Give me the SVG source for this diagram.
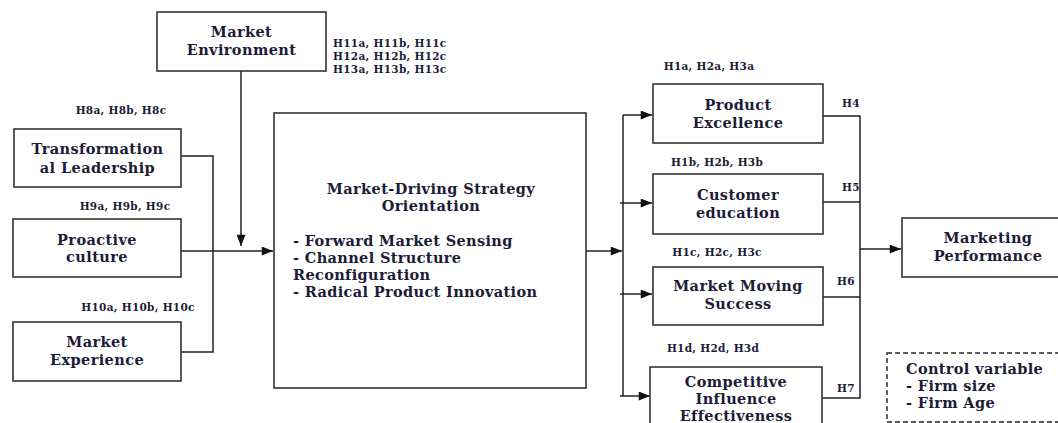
<svg xmlns="http://www.w3.org/2000/svg" width="1058" height="423" viewBox="0 0 1058 423">
<defs>
<marker id="ah" viewBox="0 0 10 8" refX="10" refY="4" markerWidth="12" markerHeight="9" markerUnits="userSpaceOnUse" orient="auto">
<path d="M0,0 L10,4 L0,8 Z" fill="#111"/>
</marker>
<style>
.box{fill:#fff;stroke:#333;stroke-width:1.6}
.dash{fill:#fff;stroke:#222;stroke-width:1.4;stroke-dasharray:5,3}
.t{font-family:"DejaVu Serif","Liberation Serif",serif;font-weight:bold;font-size:14.5px;letter-spacing:0.4px;fill:#1c1c38;text-anchor:middle}
.l{font-family:"DejaVu Serif","Liberation Serif",serif;font-weight:bold;font-size:14.5px;letter-spacing:0.35px;fill:#1c1c38}
.h{font-family:"DejaVu Serif","Liberation Serif",serif;font-weight:bold;font-size:10.5px;letter-spacing:0.3px;fill:#1c1c38}
.hc{font-family:"DejaVu Serif","Liberation Serif",serif;font-weight:bold;font-size:10.5px;letter-spacing:0.3px;fill:#1c1c38;text-anchor:middle}
.c{fill:none;stroke:#222;stroke-width:1.5}
</style>
</defs>
<rect width="1058" height="423" fill="#fff"/>
<g id="connectors">
<path class="c" d="M181,156 H213 V352 H181"/>
<path class="c" d="M181,251 H273" marker-end="url(#ah)"/>
<path class="c" d="M241,71 V246" marker-end="url(#ah)"/>
<path class="c" d="M586,251 H622" marker-end="url(#ah)"/>
<path class="c" d="M623,115 V396"/>
<path class="c" d="M623,115 H652" marker-end="url(#ah)"/>
<path class="c" d="M620,203 H652" marker-end="url(#ah)"/>
<path class="c" d="M620,294 H652" marker-end="url(#ah)"/>
<path class="c" d="M620,396 H650" marker-end="url(#ah)"/>
<path class="c" d="M823,116 H860 V398 H822"/>
<path class="c" d="M823,202 H860"/>
<path class="c" d="M823,297 H860"/>
<path class="c" d="M860,249 H901" marker-end="url(#ah)"/>
</g>
<g id="market-environment">
<rect class="box" x="157" y="12" width="169" height="59"/>
<text class="t" x="241.5" y="37">Market</text>
<text class="t" x="241.5" y="55">Environment</text>
</g>
<g id="labels-h11-13">
<text class="h" x="333" y="47">H11a, H11b, H11c</text>
<text class="h" x="333" y="60">H12a, H12b, H12c</text>
<text class="h" x="333" y="73">H13a, H13b, H13c</text>
</g>
<g id="transformational-leadership">
<rect class="box" x="14" y="129" width="167" height="58"/>
<text class="t" x="97.5" y="154">Transformation</text>
<text class="t" x="97.5" y="173">al Leadership</text>
</g>
<text class="hc" x="121" y="114">H8a, H8b, H8c</text>
<g id="proactive-culture">
<rect class="box" x="13" y="219" width="168" height="58"/>
<text class="t" x="97" y="245">Proactive</text>
<text class="t" x="97" y="262">culture</text>
</g>
<text class="hc" x="125" y="210">H9a, H9b, H9c</text>
<g id="market-experience">
<rect class="box" x="13" y="322" width="168" height="59"/>
<text class="t" x="97" y="347">Market</text>
<text class="t" x="97" y="365">Experience</text>
</g>
<text class="hc" x="138" y="311">H10a, H10b, H10c</text>
<g id="mdso">
<rect class="box" x="274" y="113" width="312" height="275"/>
<text class="t" x="431" y="194">Market-Driving Strategy</text>
<text class="t" x="431" y="211">Orientation</text>
<text class="l" x="293" y="246">- Forward Market Sensing</text>
<text class="l" x="293" y="263">- Channel Structure</text>
<text class="l" x="293" y="280">Reconfiguration</text>
<text class="l" x="293" y="297">- Radical Product Innovation</text>
</g>
<g id="product-excellence">
<rect class="box" x="653" y="84" width="170" height="59"/>
<text class="t" x="738" y="110">Product</text>
<text class="t" x="738" y="128">Excellence</text>
</g>
<text class="hc" x="709" y="70">H1a, H2a, H3a</text>
<g id="customer-education">
<rect class="box" x="653" y="174" width="170" height="60"/>
<text class="t" x="738" y="200">Customer</text>
<text class="t" x="738" y="218">education</text>
</g>
<text class="hc" x="717" y="166">H1b, H2b, H3b</text>
<g id="market-moving-success">
<rect class="box" x="653" y="267" width="170" height="58"/>
<text class="t" x="738" y="291">Market Moving</text>
<text class="t" x="738" y="309">Success</text>
</g>
<text class="hc" x="717" y="256">H1c, H2c, H3c</text>
<g id="competitive-influence">
<rect class="box" x="650" y="367" width="172" height="70"/>
<text class="t" x="736" y="387">Competitive</text>
<text class="t" x="736" y="404">Influence</text>
<text class="t" x="736" y="421">Effectiveness</text>
</g>
<text class="hc" x="713" y="352">H1d, H2d, H3d</text>
<g id="h-labels">
<text class="h" x="842" y="107">H4</text>
<text class="h" x="842" y="191">H5</text>
<text class="h" x="837" y="285">H6</text>
<text class="h" x="837" y="392">H7</text>
</g>
<g id="marketing-performance">
<rect class="box" x="902" y="218" width="170" height="59"/>
<text class="t" x="988" y="243">Marketing</text>
<text class="t" x="988" y="261">Performance</text>
</g>
<g id="control-variable">
<rect class="dash" x="887" y="353" width="180" height="69"/>
<text class="l" x="906" y="374">Control variable</text>
<text class="l" x="906" y="391">- Firm size</text>
<text class="l" x="906" y="408">- Firm Age</text>
</g>
</svg>
